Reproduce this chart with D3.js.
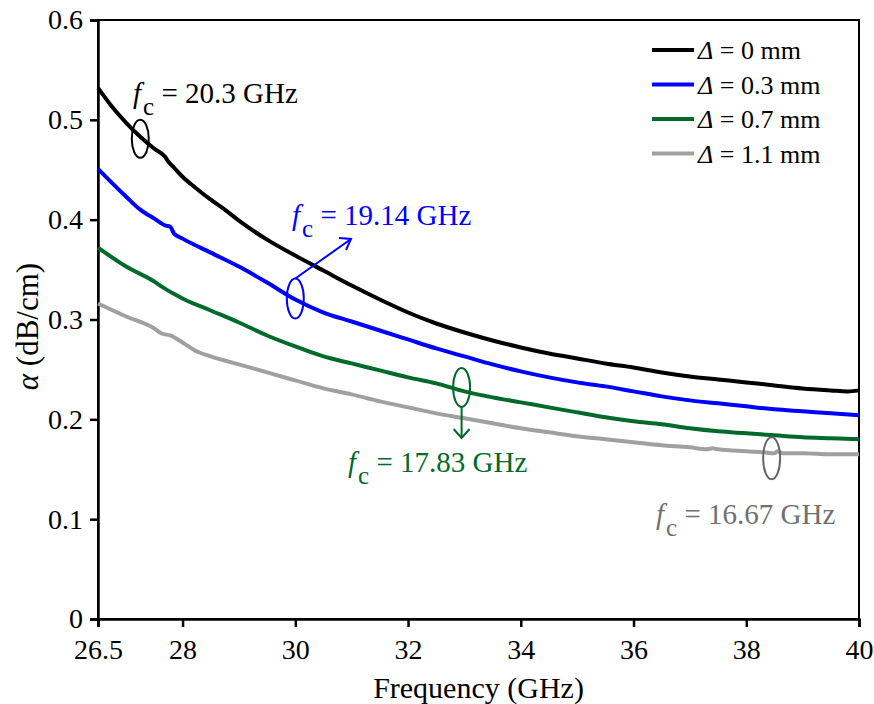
<!DOCTYPE html>
<html><head><meta charset="utf-8">
<script src="https://cdn.jsdelivr.net/npm/d3@7"></script>
</head>
<body style="margin:0"><svg id="chart" width="874" height="704"></svg>
<script>
const xTicks = [26.5, 28, 30, 32, 34, 36, 38, 40];
const yTicks = [0, 0.1, 0.2, 0.3, 0.4, 0.5, 0.6];
const seriesNames = ["Δ = 0 mm", "Δ = 0.3 mm", "Δ = 0.7 mm", "Δ = 1.1 mm"];
const seriesColors = ["#000000", "#0000ff", "#006a2a", "#a0a0a0"];

const freqBlack = [26.5,26.75,27,27.25,27.5,27.69,27.75,27.85,28,28.25,28.5,28.75,29,29.5,30,30.5,31,31.5,32,32.5,33,33.5,34,34.5,35,35.5,36,36.5,37,37.5,38,38.5,39,39.5,39.8,40];
const alphaBlack = [0.532,0.513,0.497,0.483,0.471,0.463,0.458,0.452,0.443,0.431,0.420,0.410,0.399,0.380,0.364,0.349,0.334,0.320,0.307,0.296,0.287,0.279,0.272,0.266,0.261,0.256,0.252,0.247,0.243,0.240,0.237,0.234,0.231,0.229,0.228,0.229];

const freqBlue = [26.5,27,27.25,27.5,27.7,27.78,27.85,28,28.5,29,29.5,30,30.5,31,31.5,32,32.5,33,33.5,34,34.5,35,35.5,36,36.5,37,37.5,38,38.5,39,39.5,40];
const alphaBlue = [0.451,0.423,0.410,0.401,0.394,0.393,0.386,0.381,0.367,0.353,0.337,0.320,0.307,0.298,0.289,0.280,0.271,0.263,0.255,0.248,0.242,0.237,0.233,0.228,0.223,0.219,0.216,0.213,0.210,0.208,0.206,0.204];

const freqGreen = [26.5,27,27.5,27.63,27.87,28,28.5,29,29.5,30,30.5,31,31.5,32,32.5,33,33.5,34,34.5,35,35.5,36,36.5,37,37.5,38,38.5,39,39.5,40];
const alphaGreen = [0.372,0.353,0.338,0.333,0.325,0.321,0.309,0.297,0.284,0.273,0.263,0.256,0.249,0.242,0.236,0.228,0.222,0.217,0.212,0.207,0.202,0.198,0.195,0.191,0.188,0.186,0.184,0.182,0.181,0.180];

const freqGray = [26.5,27,27.5,27.63,27.78,28,28.22,28.5,29,29.5,30,30.5,31,31.5,32,32.5,33,33.5,34,34.5,35,35.5,36,36.5,37,37.3,37.4,37.5,38,38.3,38.5,38.55,38.65,39,39.5,40];
const alphaGray = [0.316,0.303,0.291,0.286,0.284,0.277,0.269,0.263,0.255,0.247,0.239,0.231,0.225,0.218,0.212,0.206,0.201,0.196,0.191,0.187,0.183,0.180,0.177,0.174,0.172,0.170,0.171,0.170,0.168,0.167,0.166,0.168,0.166,0.166,0.165,0.165];

const annotFreq = [27.25, 30.0, 32.95, 38.45];
const annotAlpha = [0.481, 0.321, 0.232, 0.161];
const annotLabels = ["20.3 GHz", "19.14 GHz", "17.83 GHz", "16.67 GHz"];
const annotColors = ["#000000", "#0000ff", "#006a2a", "#666666"];

const FONT = '"Liberation Serif", "Times New Roman", serif';
const W = 874, H = 704;
const m = {l:98, t:20, r:15, b:85};
const svg = d3.select("#chart");
const x = d3.scaleLinear().domain([26.5, 40]).range([m.l, W - m.r]);
const y = d3.scaleLinear().domain([0, 0.6]).range([H - m.b, m.t]);

svg.append("rect").attr("x", x(26.5)).attr("y", y(0.6))
  .attr("width", x(40) - x(26.5)).attr("height", y(0) - y(0.6))
  .attr("fill", "none").attr("stroke", "#000").attr("stroke-width", 2);

const xAxis = svg.append("g").attr("transform", `translate(0,${y(0)})`)
  .call(d3.axisBottom(x).tickValues(xTicks).tickSize(8).tickPadding(12).tickFormat(d => d === 26.5 ? "26.5" : d3.format("d")(d)));
const yAxis = svg.append("g").attr("transform", `translate(${x(26.5)},0)`)
  .call(d3.axisLeft(y).tickValues(yTicks).tickSize(8).tickPadding(7).tickFormat(d => d === 0 ? "0" : d3.format(".1f")(d)));
[xAxis, yAxis].forEach(g => {
  g.style("font-family", FONT).attr("font-size", 28);
  g.select(".domain").attr("stroke-width", 2.5);
  g.selectAll(".tick line").attr("stroke-width", 2.5);
  g.selectAll(".tick text").attr("fill", "#000").style("font-family", FONT).attr("font-size", 28);
});

svg.append("text").attr("x", (x(26.5) + x(40)) / 2).attr("y", 698)
  .attr("text-anchor", "middle").attr("font-size", 30).style("font-family", FONT).text("Frequency (GHz)");
const yl = svg.append("text").attr("transform", `translate(38,${(y(0)+y(0.6))/2 + 7}) rotate(-90)`)
  .attr("text-anchor", "middle").attr("font-size", 31).style("font-family", FONT);
yl.append("tspan").attr("font-style", "italic").text("α");
yl.append("tspan").text(" (dB/cm)");

const dataSets = [
  freqBlack.map((f, i) => [f, alphaBlack[i]]),
  freqBlue.map((f, i) => [f, alphaBlue[i]]),
  freqGreen.map((f, i) => [f, alphaGreen[i]]),
  freqGray.map((f, i) => [f, alphaGray[i]])
];
const line = d3.line().x(d => x(d[0])).y(d => y(d[1])).curve(d3.curveMonotoneX);
dataSets.forEach((ds, i) => {
  svg.append("path").datum(ds).attr("d", line).attr("fill", "none")
    .attr("stroke", seriesColors[i]).attr("stroke-width", 4).attr("stroke-linejoin", "round");
});

const lg = svg.append("g");
seriesNames.forEach((n, i) => {
  const yy = 50 + i * 34.5;
  lg.append("line").attr("x1", 652).attr("x2", 694).attr("y1", yy).attr("y2", yy)
    .attr("stroke", seriesColors[i]).attr("stroke-width", 4);
  const t = lg.append("text").attr("x", 698).attr("y", yy + 9).attr("fill", "#000")
    .attr("font-size", 26).style("font-family", FONT);
  t.append("tspan").attr("font-style", "italic").text("Δ");
  t.append("tspan").text(n.slice(1));
});

function fcLabel(tx, ty, label, color) {
  const t = svg.append("text").attr("x", tx).attr("y", ty).attr("fill", color)
    .attr("font-size", 29).style("font-family", FONT);
  t.append("tspan").attr("font-style", "italic").text("f");
  t.append("tspan").attr("font-size", 25).attr("dy", 12).attr("dx", 2).text("c");
  t.append("tspan").attr("dy", -12).text(" = " + label);
}
const ell = (i, ry) => svg.append("ellipse").attr("cx", x(annotFreq[i])).attr("cy", y(annotAlpha[i]))
  .attr("rx", 8.5).attr("ry", ry).attr("fill", "none").attr("stroke", annotColors[i]).attr("stroke-width", 2);

ell(0, 19);
fcLabel(133, 103, annotLabels[0], annotColors[0]);

ell(1, 20);
{
  const cx = x(annotFreq[1]), top = y(annotAlpha[1]) - 20;
  const ex = 351, ey = 239;
  svg.append("line").attr("x1", cx).attr("y1", top).attr("x2", ex).attr("y2", ey)
    .attr("stroke", annotColors[1]).attr("stroke-width", 2);
  svg.append("path").attr("d", `M${ex-12},${ey-1} L${ex},${ey} L${ex-5},${ey+11}`)
    .attr("fill", "none").attr("stroke", annotColors[1]).attr("stroke-width", 2);
  fcLabel(292, 225, annotLabels[1], annotColors[1]);
}

ell(2, 19.5);
{
  const cx = x(annotFreq[2]), bot = y(annotAlpha[2]) + 19.5;
  const ey = 438;
  svg.append("line").attr("x1", cx).attr("y1", bot).attr("x2", cx).attr("y2", ey)
    .attr("stroke", annotColors[2]).attr("stroke-width", 2);
  svg.append("path").attr("d", `M${cx-8},${ey-9} L${cx},${ey} L${cx+8},${ey-9}`)
    .attr("fill", "none").attr("stroke", annotColors[2]).attr("stroke-width", 2);
  fcLabel(348, 472, annotLabels[2], annotColors[2]);
}

ell(3, 21);
fcLabel(656, 524, annotLabels[3], "#707070");
</script></body></html>
